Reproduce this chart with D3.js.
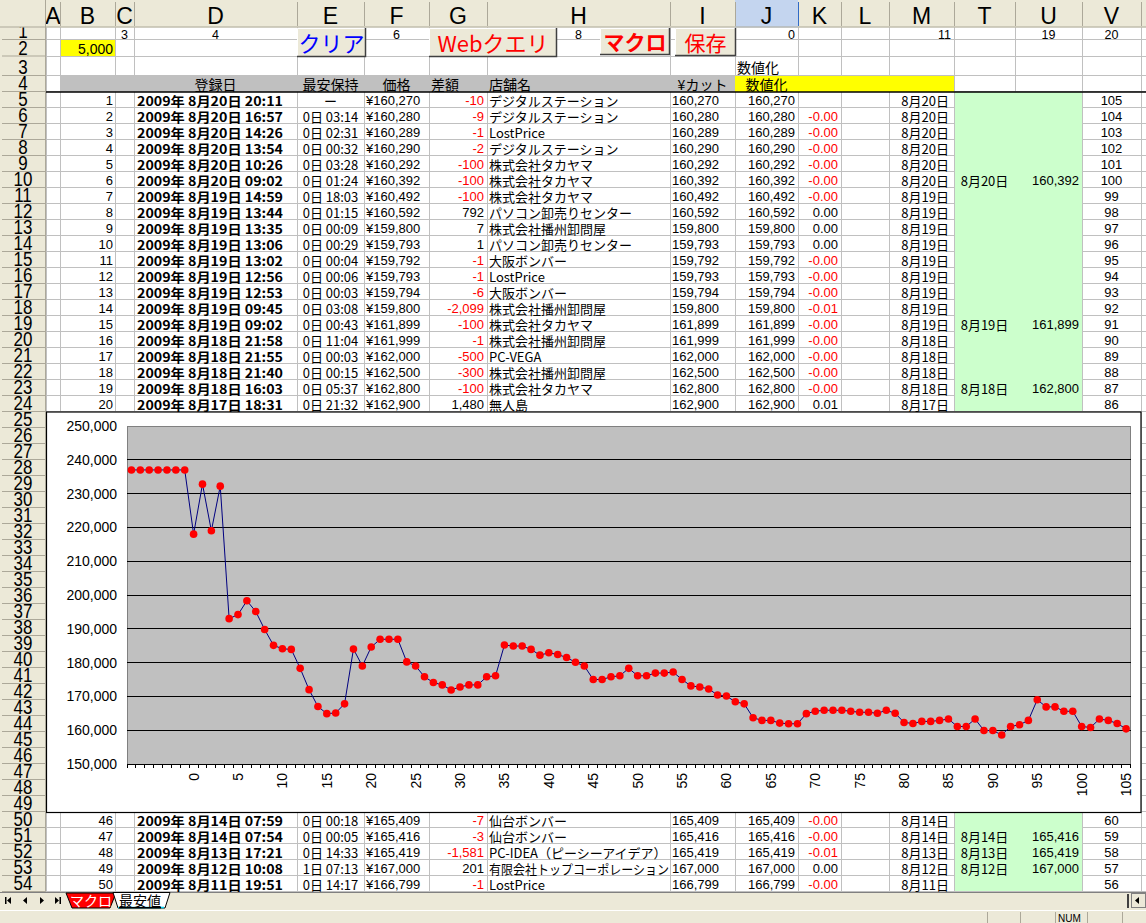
<!DOCTYPE html>
<html lang="ja">
<head>
<meta charset="UTF-8">
<title>最安値</title>
<script src="https://cdn.jsdelivr.net/npm/d3@7"></script>
<style>
  html, body { margin: 0; padding: 0; background: #fff; overflow: hidden; }
  svg { display: block; }
</style>
</head>
<body>
<div id="sheet"></div>
<script>
// ---------- chart data ----------
// seven leading points sit before category "0" and carry no label
const chartCategories = d3.range(-7, 106);
const xTickLabels = [0, 5, 10, 15, 20, 25, 30, 35, 40, 45, 50, 55, 60, 65, 70, 75, 80, 85, 90, 95, 100, 105];
const yTickValues = [150000, 160000, 170000, 180000, 190000, 200000, 210000, 220000, 230000, 240000, 250000];
const lowestPrices = [
  237000, 237000, 237000, 237000, 237000, 237000, 237000,
  218000, 232800, 219000, 232200, 193000, 194200, 198300, 195100, 189800, 185100,
  184100, 183900, 178300, 172000, 167000, 164900, 165100, 167800, 184000, 179000,
  184600, 186900, 186900, 186900, 180200, 179000, 175800, 174100, 173400, 171900,
  172800, 173400, 173400, 175800, 176100, 185200, 184900, 184900, 183900, 182200,
  182900, 182400, 181500, 180100, 179000, 175000, 175000, 175800, 176100, 178300,
  176100, 176100, 176900, 176900, 177200, 175000, 173100, 172800, 172200, 170400,
  170100, 168400, 167800, 163700, 162900, 162900, 162100, 161900, 161900, 164900,
  165600, 165900, 165900, 165900, 165600, 165300, 165300, 165000, 165900, 165000,
  162300, 162000, 162600, 162600, 162900, 163300, 161100, 161100, 163300, 159900,
  159900, 158600, 161100, 161600, 162900, 169000, 166900, 166900, 165600, 165600,
  161100, 160800, 163300, 162900, 162000, 160400
];

// ---------- sheet data (visible rows 5-24 and 50-54) ----------
const entryNo = [1, 2, 3, 4, 5, 6, 7, 8, 9, 10, 11, 12, 13, 14, 15, 16, 17, 18, 19, 20, 46, 47, 48, 49, 50];
const entryTimes = ["8月20日 20:11", "8月20日 16:57", "8月20日 14:26", "8月20日 13:54", "8月20日 10:26",
  "8月20日 09:02", "8月19日 14:59", "8月19日 13:44", "8月19日 13:35", "8月19日 13:06", "8月19日 13:02",
  "8月19日 12:56", "8月19日 12:53", "8月19日 09:45", "8月19日 09:02", "8月18日 21:58", "8月18日 21:55",
  "8月18日 21:40", "8月18日 16:03", "8月17日 18:31", "8月14日 07:59", "8月14日 07:54", "8月13日 17:21",
  "8月12日 10:08", "8月11日 19:51"];
const holdTimes = ["ー", "0日 03:14", "0日 02:31", "0日 00:32", "0日 03:28", "0日 01:24", "0日 18:03",
  "0日 01:15", "0日 00:09", "0日 00:29", "0日 00:04", "0日 00:06", "0日 00:03", "0日 03:08", "0日 00:43",
  "0日 11:04", "0日 00:03", "0日 00:15", "0日 05:37", "0日 21:32", "0日 00:18", "0日 00:05", "0日 14:33",
  "1日 07:13", "0日 14:17"];
const entryPrices = [160270, 160280, 160289, 160290, 160292, 160392, 160492, 160592, 159800, 159793, 159792,
  159793, 159794, 159800, 161899, 161999, 162000, 162500, 162800, 162900, 165409, 165416, 165419, 167000, 166799];
const priceDiffs = [-10, -9, -1, -2, -100, -100, -100, 792, 7, 1, -1, -1, -6, -2099, -100, -1, -500, -300, -100,
  1480, -7, -3, -1581, 201, -1];
const shopNames = ["デジタルステーション", "デジタルステーション", "LostPrice", "デジタルステーション",
  "株式会社タカヤマ", "株式会社タカヤマ", "株式会社タカヤマ", "パソコン卸売りセンター", "株式会社播州卸問屋",
  "パソコン卸売りセンター", "大阪ボンバー", "LostPrice", "大阪ボンバー", "株式会社播州卸問屋", "株式会社タカヤマ",
  "株式会社播州卸問屋", "PC-VEGA", "株式会社播州卸問屋", "株式会社タカヤマ", "無人島", "仙台ボンバー",
  "仙台ボンバー", "PC-IDEA（ピーシーアイデア）", "有限会社トップコーポレーション", "LostPrice"];
const ratioTexts = ["", "-0.00", "-0.00", "-0.00", "-0.00", "-0.00", "-0.00", "0.00", "0.00", "0.00", "-0.00",
  "-0.00", "-0.00", "-0.01", "-0.00", "-0.00", "-0.00", "-0.00", "-0.00", "0.01", "-0.00", "-0.00", "-0.01",
  "0.00", "-0.00"];
const dayLabels = ["8月20日", "8月20日", "8月20日", "8月20日", "8月20日", "8月20日", "8月19日", "8月19日",
  "8月19日", "8月19日", "8月19日", "8月19日", "8月19日", "8月19日", "8月19日", "8月18日", "8月18日", "8月18日",
  "8月18日", "8月17日", "8月14日", "8月14日", "8月13日", "8月12日", "8月11日"];
const dailyLowDays = ["", "", "", "", "", "8月20日", "", "", "", "", "", "", "", "", "8月19日", "", "", "",
  "8月18日", "", "", "8月14日", "8月13日", "8月12日", ""];
const dailyLowPrices = [null, null, null, null, null, 160392, null, null, null, null, null, null, null, null,
  161899, null, null, null, 162800, null, null, 165416, 165419, 167000, null];
const chartIndex = [105, 104, 103, 102, 101, 100, 99, 98, 97, 96, 95, 94, 93, 92, 91, 90, 89, 88, 87, 86,
  60, 59, 58, 57, 56];
const sheetRows = d3.range(5, 25).concat(d3.range(50, 55));

const rowOneCols = ["C", "D", "F", "H", "J", "M", "U", "V"];
const rowOneVals = ["3", "4", "6", "8", "0", "11", "19", "20"];

// ---------- layout ----------
const W = 1146, H = 923;
const JP = "'Noto Sans CJK JP', 'Noto Sans', sans-serif";
const UI = "'Liberation Sans', Arial, sans-serif";
const HDR_BG = "#ECE9D8", GRID = "#C0C0C0", RED = "#FF0000";

const colNames = ["A", "B", "C", "D", "E", "F", "G", "H", "I", "J", "K", "L", "M", "T", "U", "V"];
const colEdges = [46, 60, 115, 134, 297, 364, 429, 487, 670, 735, 798, 841, 889, 954, 1015, 1082, 1141];
const col = name => { const i = colNames.indexOf(name); return [colEdges[i], colEdges[i + 1]]; };

function rowTop(r) {
  if (r === 1) return 27.5;
  if (r === 2) return 40;
  if (r === 3) return 56.5;
  if (r === 4) return 76;
  return 92 + (r - 5) * 16;
}
const rowBot = r => rowTop(r + 1);
const fmt = d3.format(",");

const svg = d3.select("#sheet").append("svg")
  .attr("width", W).attr("height", H)
  .attr("viewBox", [0, 0, W, H]);

svg.append("rect").attr("width", W).attr("height", H).attr("fill", "#fff");

// cell gridlines
const grid = svg.append("g").attr("stroke", GRID).attr("shape-rendering", "crispEdges");
colEdges.forEach(x => grid.append("line").attr("x1", x + 0.5).attr("x2", x + 0.5).attr("y1", 27).attr("y2", 892));
d3.range(1, 55).forEach(r => grid.append("line").attr("x1", 46).attr("x2", W)
  .attr("y1", rowBot(r) - 0.5).attr("y2", rowBot(r) - 0.5));

// cell fills
const fills = svg.append("g").attr("shape-rendering", "crispEdges");
fills.append("rect").attr("x", 61).attr("y", 40).attr("width", 54).attr("height", 16).attr("fill", "#FFFF00");
fills.append("rect").attr("x", 61).attr("y", 76).attr("width", 735 - 61).attr("height", 15.5).attr("fill", "#C0C0C0");
fills.append("rect").attr("x", 735).attr("y", 76).attr("width", 954 - 735).attr("height", 15.5).attr("fill", "#FFFF00");
[[5, 24], [50, 54]].forEach(([a, b]) => fills.append("rect").attr("x", 955).attr("y", rowTop(a))
  .attr("width", 1082 - 955).attr("height", rowBot(b) - rowTop(a) - 1).attr("fill", "#CCFFCC"));

// thick border under the header row
svg.append("line").attr("x1", 46).attr("x2", W).attr("y1", 92).attr("y2", 92)
  .attr("stroke", "#000").attr("stroke-width", 1.5);

// cell text helper
const cells = svg.append("g");
function cellText(name, r, txt, align, opt = {}) {
  const [x0, x1] = col(name);
  const x = align === "start" ? x0 + (opt.pad ?? 2) : align === "end" ? x1 - (opt.pad ?? 3) : (x0 + x1) / 2;
  return cells.append("text")
    .attr("x", x).attr("y", rowBot(r) - (opt.base ?? 2.5))
    .attr("text-anchor", align)
    .attr("font-family", opt.font || JP)
    .attr("font-size", opt.size || 13)
    .attr("font-weight", opt.bold ? "bold" : null)
    .attr("fill", opt.color || "#000")
    .text(txt);
}

// row 1 numbers
rowOneCols.forEach((c, i) => {
  const align = (c === "J" || c === "M") ? "end" : "middle";
  cellText(c, 1, rowOneVals[i], align, { size: 12.5, base: 1, font: UI });
});
cellText("B", 2, "5,000", "end", { size: 14, base: 2.5, pad: 2, font: UI });
cellText("J", 3, "数値化", "start", { size: 14, base: 3 });

// row 4 headers
cellText("D", 4, "登録日", "middle", { size: 14, base: 2 });
cellText("E", 4, "最安保持", "middle", { size: 14, base: 2 });
cellText("F", 4, "価格", "middle", { size: 14, base: 2 });
cellText("G", 4, "差額", "start", { size: 14, base: 2 });
cellText("H", 4, "店舗名", "start", { size: 14, base: 2 });
cellText("I", 4, "¥カット", "middle", { size: 14, base: 2 });
cellText("J", 4, "数値化", "middle", { size: 14, base: 2 });

// data rows
sheetRows.forEach((r, i) => {
  const num = { font: UI, base: 3 };
  cellText("B", r, entryNo[i], "end", { ...num, pad: 2 });
  cellText("D", r, "2009年 " + entryTimes[i], "start", { bold: true, pad: 3 })
    .attr("textLength", 146).attr("lengthAdjust", "spacingAndGlyphs");
  cellText("E", r, holdTimes[i], "middle");
  cellText("F", r, "¥" + fmt(entryPrices[i]), "start", num);
  cellText("G", r, fmt(priceDiffs[i]).replace("−", "-"), "end",
    { ...num, color: priceDiffs[i] < 0 ? RED : "#000" });
  const shop = cellText("H", r, shopNames[i], "start");
  if (shop.node().getComputedTextLength() > 180) shop.attr("textLength", 180).attr("lengthAdjust", "spacingAndGlyphs");
  cellText("I", r, fmt(entryPrices[i]), "start", num);
  cellText("J", r, fmt(entryPrices[i]), "end", num);
  cellText("K", r, ratioTexts[i], "end", { ...num, color: ratioTexts[i].startsWith("-") ? RED : "#000" });
  cellText("M", r, dayLabels[i], "end", { pad: 5 });
  if (dailyLowDays[i]) cellText("T", r, dailyLowDays[i], "middle");
  if (dailyLowPrices[i] != null) cellText("U", r, fmt(dailyLowPrices[i]), "end", num);
  cellText("V", r, chartIndex[i], "middle", num);
});

// form buttons
const buttons = [
  { label: "クリア", x0: 297, x1: 366, y0: 28, y1: 57, color: "#0000FF", bold: false, size: 22 },
  { label: "Webクエリ", x0: 429, x1: 557, y0: 28, y1: 57, color: RED, bold: false, size: 22 },
  { label: "マクロ", x0: 600, x1: 670, y0: 28, y1: 55, color: RED, bold: true, size: 21 },
  { label: "保存", x0: 675, x1: 736, y0: 28, y1: 56, color: RED, bold: false, size: 21 }
];
const btn = svg.append("g").selectAll("g").data(buttons).join("g");
btn.append("rect").attr("x", d => d.x0).attr("y", d => d.y0)
  .attr("width", d => d.x1 - d.x0).attr("height", d => d.y1 - d.y0).attr("fill", HDR_BG);
btn.append("path").attr("fill", "none").attr("stroke", "#fff")
  .attr("d", d => `M${d.x0 + 0.5},${d.y1 - 1}V${d.y0 + 0.5}H${d.x1 - 1}`);
btn.append("path").attr("fill", "none").attr("stroke", "#404040").attr("stroke-width", 1.5)
  .attr("d", d => `M${d.x0},${d.y1 - 0.5}H${d.x1 - 0.5}V${d.y0}`);
btn.append("text").attr("x", d => (d.x0 + d.x1) / 2).attr("y", d => d.y1 - 5)
  .attr("text-anchor", "middle").attr("font-family", JP).attr("font-size", d => d.size)
  .attr("font-weight", d => d.bold ? "bold" : null).attr("fill", d => d.color).text(d => d.label);

// ---------- embedded chart ----------
const chart = svg.append("g");
chart.append("rect").attr("x", 46.5).attr("y", 412).attr("width", 1141 - 46.5).attr("height", 400.5)
  .attr("fill", "#fff").attr("stroke", "#000").attr("stroke-width", 1.2);

const plot = { l: 127, r: 1130.5, t: 426, b: 764 };
const x = d3.scaleBand().domain(chartCategories).range([plot.l, plot.r]).padding(0);
const y = d3.scaleLinear().domain([150000, 250000]).range([plot.b, plot.t]);

chart.append("rect").attr("x", plot.l).attr("y", plot.t)
  .attr("width", plot.r - plot.l).attr("height", plot.b - plot.t)
  .attr("fill", "#C0C0C0").attr("stroke", "#808080").attr("shape-rendering", "crispEdges");

chart.append("g").attr("stroke", "#000").attr("shape-rendering", "crispEdges")
  .selectAll("line").data(yTickValues.slice(1, -1)).join("line")
  .attr("x1", plot.l).attr("x2", plot.r).attr("y1", d => y(d)).attr("y2", d => y(d));

// category axis line with ticks between categories
const tickEdges = chartCategories.map(c => x(c)).concat([plot.r]);
chart.append("line").attr("x1", plot.l).attr("x2", plot.r).attr("y1", plot.b).attr("y2", plot.b)
  .attr("stroke", "#000").attr("shape-rendering", "crispEdges");
chart.append("g").attr("stroke", "#000").attr("shape-rendering", "crispEdges")
  .selectAll("line").data(tickEdges).join("line")
  .attr("x1", d => d).attr("x2", d => d).attr("y1", plot.b).attr("y2", plot.b + 4);

chart.append("g").attr("transform", `translate(0,${plot.b})`)
  .call(d3.axisBottom(x).tickValues(xTickLabels).tickSize(0).tickPadding(0))
  .call(g => g.select(".domain").remove())
  .call(g => g.selectAll("text")
    .attr("transform", "rotate(-90)").attr("x", -9).attr("y", 0).attr("dy", "0.36em")
    .attr("text-anchor", "end").attr("font-family", UI).attr("font-size", 14).attr("fill", "#000"));

chart.append("g").attr("transform", `translate(${plot.l},0)`)
  .call(d3.axisLeft(y).tickValues(yTickValues).tickFormat(fmt).tickSize(0).tickPadding(10))
  .call(g => g.select(".domain").remove())
  .call(g => g.selectAll("text").attr("font-family", UI).attr("font-size", 14).attr("fill", "#000"));

const pts = chartCategories.map((c, i) => ({ c, v: lowestPrices[i] }));
const cx = d => x(d.c) + x.bandwidth() / 2;
chart.append("path").datum(pts)
  .attr("fill", "none").attr("stroke", "#000080").attr("stroke-width", 1)
  .attr("d", d3.line().x(cx).y(d => y(d.v)));
chart.append("g").attr("fill", RED)
  .selectAll("circle").data(pts).join("circle")
  .attr("cx", cx).attr("cy", d => y(d.v)).attr("r", 3.8);

// ---------- column and row headers ----------
const hdr = svg.append("g");
hdr.append("rect").attr("width", W).attr("height", 27.5).attr("fill", HDR_BG);
hdr.append("rect").attr("width", 46).attr("height", 892).attr("fill", HDR_BG);
hdr.append("rect").attr("x", 735).attr("width", 63).attr("height", 27.5).attr("fill", "#C4D5EF");
hdr.append("line").attr("x1", 0).attr("x2", W).attr("y1", 27).attr("y2", 27).attr("stroke", "#ACA899");
hdr.append("line").attr("x1", 45.5).attr("x2", 45.5).attr("y1", 0).attr("y2", 892).attr("stroke", "#ACA899");
colNames.forEach((name, i) => {
  const [x0, x1] = [colEdges[i], colEdges[i + 1]];
  const cell = hdr.append("svg").attr("x", x0).attr("y", 0).attr("width", x1 - x0).attr("height", 27);
  cell.append("text").attr("x", (x1 - x0) / 2).attr("y", 23.5).attr("text-anchor", "middle")
    .attr("font-family", UI).attr("font-size", 23).attr("fill", "#000").text(name);
  hdr.append("line").attr("x1", x1 + 0.5).attr("x2", x1 + 0.5).attr("y1", 2).attr("y2", 26)
    .attr("stroke", name === "J" ? "#316AC5" : "#ACA899");
});
d3.range(1, 55).forEach(r => {
  const t = rowTop(r), h = rowBot(r) - t;
  const cell = hdr.append("svg").attr("x", 0).attr("y", t).attr("width", 45).attr("height", h);
  cell.append("text").attr("transform", `translate(23,${h - 2}) scale(1,1.15)`)
    .attr("text-anchor", "middle").attr("font-family", UI).attr("font-size", 17)
    .attr("fill", "#000").text(r);
  hdr.append("line").attr("x1", 2).attr("x2", 45).attr("y1", t + h - 0.5).attr("y2", t + h - 0.5)
    .attr("stroke", "#ACA899");
});

// ---------- sheet tabs and status bar ----------
const bar = svg.append("g");
bar.append("rect").attr("y", 892).attr("width", W).attr("height", 31).attr("fill", HDR_BG);
bar.append("line").attr("x1", 0).attr("x2", W).attr("y1", 892.5).attr("y2", 892.5).attr("stroke", "#808080");
bar.append("line").attr("x1", 0).attr("x2", W).attr("y1", 910.5).attr("y2", 910.5).attr("stroke", "#fff");
bar.append("path").attr("fill", "#000")
  .attr("d", "M5,897h1.5v7H5zM7,900.5l4,-3.5v7z M23,900.5l4,-3.5v7z M40,897l4,3.5l-4,3.5z M55,897l4,3.5l-4,3.5z M59.5,897H61v7h-1.5z");
bar.append("path").attr("d", "M66,893H116L110,908H72Z").attr("fill", RED).attr("stroke", "#000");
bar.append("text").attr("x", 91).attr("y", 906).attr("text-anchor", "middle").attr("font-family", JP)
  .attr("font-size", 14).attr("fill", "#fff").text("マクロ");
bar.append("path").attr("d", "M113,892.5H170L165,908H118Z").attr("fill", "#fff").attr("stroke", "#000");
bar.append("line").attr("x1", 118).attr("x2", 164).attr("y1", 907.5).attr("y2", 907.5).attr("stroke", "#00D0F0").attr("stroke-width", 1.5);
bar.append("text").attr("x", 140).attr("y", 906).attr("text-anchor", "middle").attr("font-family", JP)
  .attr("font-size", 14).attr("fill", "#000").attr("text-decoration", "underline").text("最安値");
bar.append("rect").attr("x", 1127).attr("y", 894).attr("width", 2).attr("height", 14).attr("fill", "#404040");
bar.append("rect").attr("x", 1131.5).attr("y", 893.5).attr("width", 14).attr("height", 14).attr("fill", HDR_BG).attr("stroke", "#808080");
bar.append("path").attr("d", "M1135,900.5l4,-3.5v7z").attr("fill", "#000");
[987, 1020, 1055, 1087, 1122].forEach(xx => bar.append("line").attr("x1", xx + 0.5).attr("x2", xx + 0.5)
  .attr("y1", 912).attr("y2", 923).attr("stroke", "#ACA899"));
bar.append("text").attr("x", 1058).attr("y", 921.5).attr("font-family", UI).attr("font-size", 10)
  .attr("fill", "#000").text("NUM");
</script>
</body>
</html>
